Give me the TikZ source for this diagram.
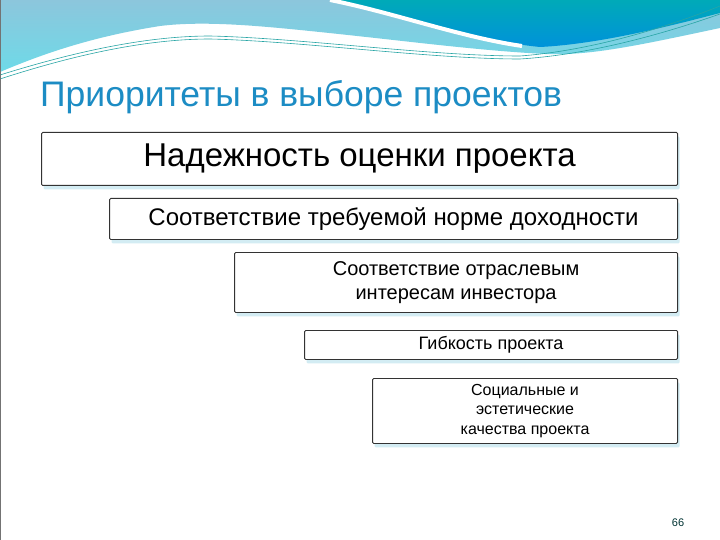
\documentclass[tikz,border=0pt]{standalone}
\usepackage{fontspec}
\setmainfont{Liberation Sans}
\usepackage{tikz}
\usetikzlibrary{shadows}
\definecolor{titleblue}{RGB}{28,140,196}
\definecolor{lightwave}{RGB}{140,198,220}
\definecolor{cyanwave}{RGB}{110,218,232}
\definecolor{tealtop}{RGB}{0,170,184}
\definecolor{bluebot}{RGB}{0,146,218}
\definecolor{waveline}{RGB}{40,165,165}
\definecolor{glow}{RGB}{200,232,240}

\begin{document}
\begin{tikzpicture}[x=1pt,y=-1pt,
   prio/.style={draw=black!80, fill=white, line width=0.9pt, rounded corners=1.2pt,
     anchor=north east, inner sep=0pt, align=center,
     drop shadow={shadow xshift=2pt, shadow yshift=-4pt, fill=glow, opacity=0.8}}]
   \useasboundingbox (0,0) rectangle (720,540);
   \fill[white] (0,0) rectangle (720,540);
   \shade[top color=lightwave, bottom color=cyanwave]
     (0,0) -- (720,0) -- (720,28) .. controls (640,45) and (590,56) .. (545,54)
     .. controls (470,50) and (400,40) .. (300,30) .. controls (250,25) and (200,21) .. (160,26)
     .. controls (90,37) and (40,55) .. (0,72) -- cycle;
   \shade[top color=tealtop, bottom color=bluebot]
     (338,0) .. controls (400,14) and (470,40) .. (540,47)
     .. controls (600,44) and (670,26) .. (720,13) -- (720,0) -- cycle;
   \draw[white, line width=4pt] (330,0) .. controls (395,13) and (460,37) .. (522,46);
   \draw[waveline, line width=0.6pt] (0,75) .. controls (80,50) and (150,36) .. (210,36)
     .. controls (300,38) and (430,56) .. (520,56) .. controls (600,50) and (680,22) .. (720,6);
   \draw[waveline, line width=0.6pt] (0,79) .. controls (80,53) and (150,39) .. (210,39)
     .. controls (300,41) and (430,59) .. (520,59) .. controls (600,54) and (680,28) .. (720,14);
   \draw[black!55, line width=1pt] (0,0) rectangle (720,540);
   \node (title) [anchor=base west, text=titleblue, font=\fontsize{35.5}{40}\selectfont, inner sep=0pt]
     at (40,107) {Приоритеты в выборе проектов};
   \node (nadezh) [prio, minimum width=636, minimum height=53, font=\fontsize{33}{38}\selectfont]
     at (678,132) {Надежность оценки проекта};
   \node (dohod) [prio, minimum width=568, minimum height=41, font=\fontsize{24}{28}\selectfont]
     at (678,198) {Соответствие требуемой норме доходности};
   \node (interes) [prio, minimum width=443, minimum height=60, font=\fontsize{20}{23.5}\selectfont]
     at (678,252) {Соответствие отраслевым\\интересам инвестора};
   \node (gibk) [prio, minimum width=373, minimum height=29, font=\fontsize{18}{21}\selectfont]
     at (678,330) {Гибкость проекта};
   \node (social) [prio, minimum width=305, minimum height=65, font=\fontsize{16}{19.5}\selectfont]
     at (678,378) {Социальные и\\эстетические\\качества проекта};
   \node (page) [anchor=base, text=black!60!teal, font=\fontsize{11}{13}\selectfont, inner sep=0pt]
     at (678,526) {66};
\end{tikzpicture}
\end{document}
